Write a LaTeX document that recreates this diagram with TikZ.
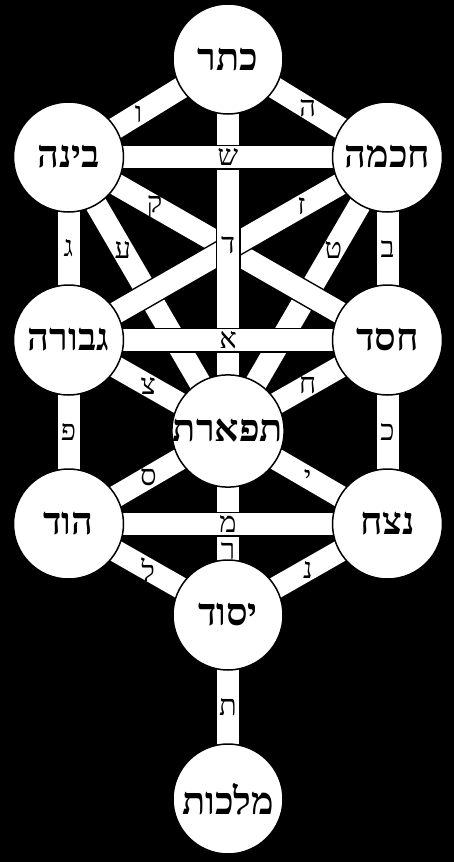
\documentclass[tikz,border=0pt]{standalone}
\usepackage{fontspec}
\newfontfamily\hebfont[Script=Hebrew]{Liberation Serif}
\TeXXeTstate=1
\pgfdeclarelayer{bg}
\pgfdeclarelayer{paths}
\pgfsetlayers{bg,paths,main}
\tikzset{
  sefira/.style={circle, draw=black, line width=1.5pt, fill=white,
    minimum size=110pt, inner sep=0pt, font=\hebfont\bfseries\fontsize{38}{38}\selectfont},
  band/.style={draw=black, line width=1.5pt, double=white, double distance=22pt},
  letter/.style={font=\hebfont\fontsize{29}{29}\selectfont, inner sep=0pt}
}
\begin{document}
\begin{tikzpicture}[x=1pt,y=-1pt]
  %background
  \begin{pgfonlayer}{bg}
    \fill[black] (0,0) rectangle (454,862);
  \end{pgfonlayer}
  %sefirot
  \node[sefira] (keter)    at (228,59)  {\beginR כתר\endR};
  \node[sefira] (binah)    at (68.5,157) {\beginR בינה\endR};
  \node[sefira] (chokhmah) at (387.5,157) {\beginR חכמה\endR};
  \node[sefira] (gevurah)  at (68.5,340) {\beginR גבורה\endR};
  \node[sefira] (chesed)   at (387.5,340) {\beginR חסד\endR};
  \node[sefira] (tiferet)  at (228,431) {\beginR תפארת\endR};
  \node[sefira] (hod)      at (68.5,524) {\beginR הוד\endR};
  \node[sefira] (netzach)  at (387.5,524) {\beginR נצח\endR};
  \node[sefira] (yesod)    at (228,615) {\beginR יסוד\endR};
  \node[sefira] (malkhut)  at (228,799) {\beginR מלכות\endR};
  %paths
  \begin{pgfonlayer}{paths}
    \draw[band] (binah.center) -- (tiferet.center) node[letter, pos=.34] {ע};
    \draw[band] (chokhmah.center) -- (tiferet.center) node[letter, pos=.34] {ט};
    \draw[band] (binah.center) -- (chesed.center) node[letter, pos=.27] {ק};
    \draw[band] (chokhmah.center) -- (gevurah.center) node[letter, pos=.27] {ז};
    \draw[band] (keter.center) -- (tiferet.center) node[letter, pos=.5] {ד};
    \draw[band] (binah.center) -- (chokhmah.center) node[letter, pos=.5] {ש};
    \draw[band] (gevurah.center) -- (chesed.center) node[letter, pos=.5] {א};
    \draw[band] (keter.center) -- (binah.center) node[letter, pos=.56] {ו};
    \draw[band] (keter.center) -- (chokhmah.center) node[letter, pos=.5] {ה};
    \draw[band] (binah.center) -- (gevurah.center) node[letter, pos=.5] {ג};
    \draw[band] (chokhmah.center) -- (chesed.center) node[letter, pos=.5] {ב};
    \draw[band] (gevurah.center) -- (tiferet.center) node[letter, pos=.5] {צ};
    \draw[band] (chesed.center) -- (tiferet.center) node[letter, pos=.5] {ח};
    \draw[band] (gevurah.center) -- (hod.center) node[letter, pos=.5] {פ};
    \draw[band] (chesed.center) -- (netzach.center) node[letter, pos=.5] {כ};
    \draw[band] (hod.center) -- (tiferet.center) node[letter, pos=.5] {ס};
    \draw[band] (tiferet.center) -- (netzach.center) node[letter, pos=.5] {י};
    \draw[band] (tiferet.center) -- (yesod.center) node[letter, pos=.65] {ר};
    \draw[band] (hod.center) -- (netzach.center) node[letter, pos=.5] {מ};
    \draw[band] (hod.center) -- (yesod.center) node[letter, pos=.5] {ל};
    \draw[band] (netzach.center) -- (yesod.center) node[letter, pos=.5] {נ};
    \draw[band] (yesod.center) -- (malkhut.center) node[letter, pos=.5] {ת};
  \end{pgfonlayer}
\end{tikzpicture}
\end{document}
